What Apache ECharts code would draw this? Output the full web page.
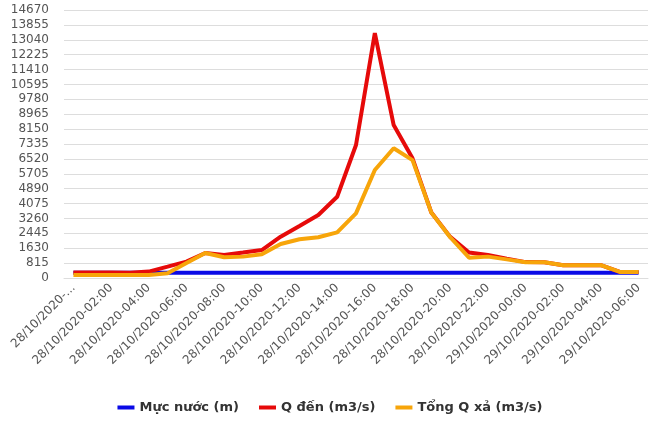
<!DOCTYPE html>
<html>
<head>
<meta charset="utf-8">
<script src="https://cdn.jsdelivr.net/npm/echarts@6/dist/echarts.min.js"></script>
<style>html,body{margin:0;padding:0;background:#fff}#c{width:660px;height:440px}</style>
</head>
<body>
<div id="c"></div>
<script>
const categories = [
  '28/10/2020-00:00','28/10/2020-01:00','28/10/2020-02:00','28/10/2020-03:00','28/10/2020-04:00',
  '28/10/2020-05:00','28/10/2020-06:00','28/10/2020-07:00','28/10/2020-08:00','28/10/2020-09:00',
  '28/10/2020-10:00','28/10/2020-11:00','28/10/2020-12:00','28/10/2020-13:00','28/10/2020-14:00',
  '28/10/2020-15:00','28/10/2020-16:00','28/10/2020-17:00','28/10/2020-18:00','28/10/2020-19:00',
  '28/10/2020-20:00','28/10/2020-21:00','28/10/2020-22:00','28/10/2020-23:00','29/10/2020-00:00',
  '29/10/2020-01:00','29/10/2020-02:00','29/10/2020-03:00','29/10/2020-04:00','29/10/2020-05:00',
  '29/10/2020-06:00'
];
const seriesNames = ['Mực nước (m)', 'Q đến (m3/s)', 'Tổng Q xả (m3/s)'];
const mucNuoc = [290,290,290,290,290,290,290,290,290,290,290,290,290,290,290,290,290,290,290,290,290,290,290,290,290,290,290,290,290,290,290];
const qDen = [300,300,300,290,350,620,900,1370,1260,1390,1530,2260,2850,3450,4450,7280,13400,8370,6550,3580,2250,1400,1260,1060,870,860,700,700,700,330,330];
const qXa = [160,160,160,160,170,260,820,1370,1140,1170,1300,1860,2120,2230,2500,3540,5910,7100,6450,3580,2230,1110,1170,1020,860,860,700,700,700,330,330];
const yTicks = {min: 0, max: 14670, interval: 815};

const chart = echarts.init(document.getElementById('c'), null, {renderer: 'canvas'});
const font = 'DejaVu Sans';
chart.setOption({
  animation: false,
  color: ['#0a0ae6', '#e60a0a', '#f7a50a'],
  grid: {left: 64, right: 12, top: 10, bottom: 162},
  legend: {
    bottom: 21, left: 'center',
    icon: 'rect', itemWidth: 17, itemHeight: 4, itemGap: 20,
    textStyle: {fontFamily: font, fontSize: 13, fontWeight: 'bold', color: '#333'},
    data: seriesNames
  },
  xAxis: {
    type: 'category', data: categories, boundaryGap: true,
    axisLine: {lineStyle: {color: '#ddd'}},
    axisTick: {show: false},
    axisLabel: {
      interval: 1, rotate: 45, margin: 8, color: '#555', fontFamily: font, fontSize: 12,
      formatter: (v, i) => i === 0 ? v.slice(0, 11) + '...' : v
    }
  },
  yAxis: {
    type: 'value', min: yTicks.min, max: yTicks.max, interval: yTicks.interval,
    axisLine: {show: false}, axisTick: {show: false},
    splitLine: {lineStyle: {color: '#ddd', width: 1}},
    axisLabel: {color: '#555', fontFamily: font, fontSize: 12, margin: 15, formatter: v => String(v)}
  },
  series: [
    {name: seriesNames[0], type: 'line', data: mucNuoc, symbol: 'none', lineStyle: {width: 4}},
    {name: seriesNames[1], type: 'line', data: qDen, symbol: 'none', lineStyle: {width: 4}},
    {name: seriesNames[2], type: 'line', data: qXa, symbol: 'none', lineStyle: {width: 4}}
  ]
});
</script>
</body>
</html>
